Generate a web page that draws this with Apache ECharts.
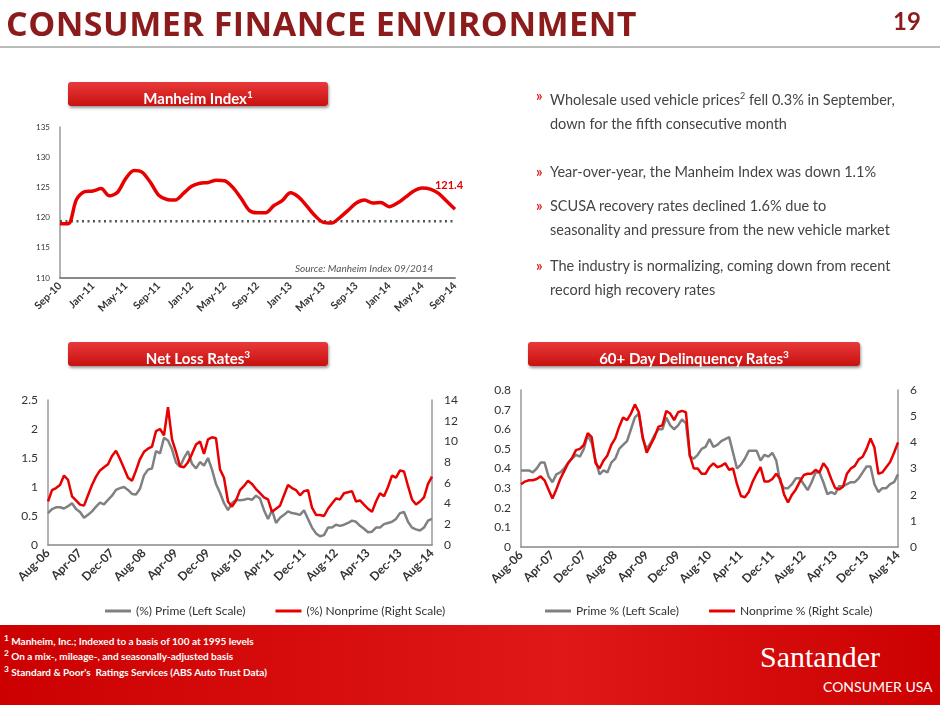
<!DOCTYPE html>
<html><head><meta charset="utf-8">
<script src="https://cdn.jsdelivr.net/npm/echarts@6/dist/echarts.min.js"></script>
<style>
body{margin:0;width:940px;height:705px;position:relative;overflow:hidden;background:#fff;font-family:Lato,"Open Sans",sans-serif}
#c{position:absolute;left:0;top:0;width:940px;height:705px}
.t{position:absolute;white-space:nowrap}
.pill{position:absolute;height:24px;line-height:24px;text-align:center;color:#fff;font-weight:bold;font-size:15px;background:linear-gradient(#e83a3a,#c81010);border-radius:3px;box-shadow:1px 2px 3px #999}
.b{position:absolute;left:550px;width:350px;font-size:14.5px;color:#444;line-height:24px}
.b:before{content:"»";position:absolute;left:-14px;color:#e02020;font-weight:bold}
</style></head><body>
<div id="c"></div>
<div class="t" style="left:6px;top:0px;font-size:34px;font-weight:bold;color:#8c1c1c;font-family:'Open Sans',sans-serif;letter-spacing:0.5px">CONSUMER FINANCE ENVIRONMENT</div>
<div class="t" style="left:893px;top:6px;font-size:24px;font-weight:bold;color:#8c1c1c">19</div>
<div style="position:absolute;left:0;top:46px;width:940px;height:2px;background:#bbb"></div>
<div class="pill" style="left:68px;top:82px;width:260px">Manheim Index<sup style="font-size:10px">1</sup></div>
<div class="pill" style="left:68px;top:342px;width:260px">Net Loss Rates<sup style="font-size:10px">3</sup></div>
<div class="pill" style="left:528px;top:342px;width:332px">60+ Day Delinquency Rates<sup style="font-size:10px">3</sup></div>
<div class="b" style="top:84px">Wholesale used vehicle prices<sup style="font-size:9px">2</sup> fell 0.3% in September, down for the fifth consecutive month</div>
<div class="b" style="top:160px">Year-over-year, the Manheim Index was down 1.1%</div>
<div class="b" style="top:194px">SCUSA recovery rates declined 1.6% due to seasonality and pressure from the new vehicle market</div>
<div class="b" style="top:254px">The industry is normalizing, coming down from recent record high recovery rates</div>
<div class="t" style="left:295px;top:262px;font-size:10px;font-style:italic;color:#555">Source: Manheim Index 09/2014</div>
<div style="position:absolute;left:0;top:625px;width:940px;height:80px;background:linear-gradient(90deg,#c00 0%,#e01818 60%,#c00 100%)"></div>
<div class="t" style="left:4px;top:632px;font-size:10px;color:#fff;line-height:12px;font-weight:bold"><sup>1</sup> Manheim, Inc.; Indexed to a basis of 100 at 1995 levels<br><sup>2</sup> On a mix-, mileage-, and seasonally-adjusted basis<br><sup>3</sup> Standard &amp; Poor's&nbsp; Ratings Services (ABS Auto Trust Data)</div>
<div class="t" style="left:760px;top:640px;font-size:30px;color:#fff;font-family:'Liberation Serif',serif">Santander</div>
<div class="t" style="left:823px;top:678px;font-size:14px;color:#fff">CONSUMER USA</div>
<script>
var MON=['Jan','Feb','Mar','Apr','May','Jun','Jul','Aug','Sep','Oct','Nov','Dec'];
function months(y,m,n){var a=[];for(var i=0;i<n;i++){var k=m+i;a.push(MON[k%12]+'-'+String(y+Math.floor(k/12)).slice(-2));}return a;}
var manCats=months(2010,8,49);
var manheim=[119,119,123,124.3,124.4,124.8,123.6,124.2,126.5,127.8,127.5,125.8,123.7,123,122.9,124,125.2,125.7,125.8,126.2,126.1,125,123.2,121.2,120.8,120.8,122,122.8,124.1,123.4,121.9,120.3,119.2,119.1,120,121.2,122.4,122.9,122.4,122.5,121.8,122.4,123.4,124.4,124.9,124.7,124,122.7,121.4];
var manBase=manCats.map(function(){return 119.4;});
var lossCats=months(2006,7,97);
var lossPrime=[.55,.62,.65,.65,.63,.67,.72,.62,.57,.47,.52,.58,.66,.73,.7,.78,.85,.95,.98,1.0,.95,.88,.87,.97,1.2,1.3,1.32,1.62,1.58,1.85,1.8,1.65,1.42,1.35,1.5,1.62,1.4,1.32,1.43,1.37,1.5,1.3,1.05,.9,.72,.6,.72,.78,.77,.78,.8,.78,.85,.8,.6,.45,.6,.38,.47,.52,.58,.55,.54,.52,.6,.45,.3,.2,.15,.17,.3,.3,.35,.33,.35,.38,.42,.4,.33,.28,.22,.23,.3,.3,.36,.38,.4,.45,.55,.57,.4,.3,.27,.25,.3,.42,.45];
var lossNon=[4.2,5.3,5.5,5.8,6.7,6.3,4.7,4.3,3.9,3.8,4.8,5.8,6.6,7.2,7.5,7.8,8.6,9.1,8.3,7.4,6.5,6.2,7.2,8.3,9.0,9.3,9.5,11.0,11.2,10.6,13.3,10.2,9.0,7.6,7.5,8.0,8.8,9.7,10.0,8.8,10.2,10.4,10.3,7.3,6.5,4.2,3.7,4.3,5.3,5.7,6.2,5.9,5.4,5.0,4.6,4.4,3.2,3.5,3.8,4.8,5.8,5.5,5.3,4.8,5.2,5.3,3.6,2.9,2.9,2.8,3.5,4.0,4.5,4.4,5.0,5.1,5.2,4.2,4.3,3.9,3.5,3.2,4.2,5.0,4.7,5.6,6.7,6.5,7.2,7.1,5.7,4.4,3.9,4.2,4.6,5.9,6.6];
var delPrime=[.39,.39,.39,.38,.4,.43,.43,.36,.33,.37,.38,.4,.43,.45,.47,.46,.5,.57,.53,.44,.37,.39,.38,.43,.45,.5,.52,.54,.6,.66,.68,.55,.5,.53,.57,.6,.6,.66,.62,.6,.62,.65,.63,.46,.45,.47,.5,.51,.55,.51,.52,.54,.55,.56,.48,.4,.42,.45,.49,.49,.49,.44,.47,.46,.48,.44,.33,.3,.3,.32,.35,.35,.32,.29,.33,.38,.38,.33,.27,.28,.27,.31,.31,.32,.33,.33,.35,.38,.41,.41,.32,.28,.3,.3,.32,.33,.37];
var delNon=[2.4,2.5,2.55,2.55,2.6,2.7,2.55,2.2,1.85,2.2,2.6,2.9,3.2,3.4,3.7,3.75,3.9,4.35,4.2,3.2,3.0,3.3,3.5,3.9,4.15,4.6,4.95,4.85,5.1,5.45,5.15,4.2,3.6,3.9,4.2,4.6,4.65,5.2,5.1,4.85,5.15,5.2,5.15,3.5,3.0,3.0,2.8,2.8,3.05,3.2,3.05,3.1,3.2,2.95,3.0,2.4,1.95,1.9,2.1,2.5,2.8,3.05,2.5,2.5,2.6,2.8,2.6,2.0,1.7,2.0,2.2,2.5,2.75,2.8,2.8,2.95,2.85,3.2,3.0,2.6,2.25,2.2,2.3,2.8,3.0,3.1,3.35,3.45,3.75,4.15,3.8,2.8,2.85,3.05,3.25,3.6,4.0];

var F='Lato,"Open Sans",sans-serif';
var lbl={color:'#333',fontFamily:F};
function xax(idx,cats,iv,fs){return {type:'category',gridIndex:idx,data:cats,boundaryGap:false,
 axisLine:{lineStyle:{color:'#888',width:idx==0?2:1.5}},axisTick:{show:false},
 axisLabel:Object.assign({rotate:45,interval:iv,fontSize:fs,fontWeight:'bold',margin:6},lbl)};}
function yax(idx,min,max,iv,pos,fs,line){return {type:'value',gridIndex:idx,min:min,max:max,interval:iv,position:pos,
 splitLine:{show:false},axisTick:{show:false},axisLine:{show:line,lineStyle:{color:'#999',width:1.5}},
 axisLabel:Object.assign({fontSize:fs,margin:pos=='right'?12:10},lbl)};}
var ch=echarts.init(document.getElementById('c'));
ch.setOption({animation:false,
 grid:[{left:60,right:485,top:127,bottom:427},{left:48,right:508,top:400,bottom:160},{left:521,right:42,top:390,bottom:158}],
 xAxis:[xax(0,manCats,3,10.5),xax(1,lossCats,7,12),xax(2,lossCats,7,12)],
 yAxis:[yax(0,110,135,5,'left',8,true),yax(1,0,2.5,0.5,'left',12,true),yax(1,0,14,2,'right',12,true),
        yax(2,0,0.8,0.1,'left',12,true),yax(2,0,6,1,'right',12,true)],
 legend:[{left:100,top:600,itemWidth:26,itemHeight:3,itemGap:30,icon:'rect',textStyle:{fontSize:12,color:'#333',fontFamily:F},data:['(%) Prime (Left Scale)','(%) Nonprime (Right Scale)']},
         {left:540,top:600,itemWidth:26,itemHeight:3,itemGap:30,icon:'rect',textStyle:{fontSize:12,color:'#333',fontFamily:F},data:['Prime % (Left Scale)','Nonprime % (Right Scale)']}],
 series:[
  {type:'line',xAxisIndex:0,yAxisIndex:0,data:manBase,showSymbol:false,silent:true,lineStyle:{color:'#555',width:2.5,type:[2,3.5]}},
  {type:'line',xAxisIndex:0,yAxisIndex:0,data:manheim,smooth:0.3,showSymbol:false,lineStyle:{color:'#e80000',width:3.5},
   markPoint:{symbol:'circle',symbolSize:1,data:[{coord:[48,121.4]}],label:{show:true,formatter:'121.4',color:'#e80000',fontWeight:'bold',fontSize:11,position:'top',distance:18,offset:[-6,0],fontFamily:F}}},
  {name:'(%) Prime (Left Scale)',type:'line',xAxisIndex:1,yAxisIndex:1,data:lossPrime,showSymbol:false,color:'#808080',lineStyle:{width:2.5}},
  {name:'(%) Nonprime (Right Scale)',type:'line',xAxisIndex:1,yAxisIndex:2,data:lossNon,showSymbol:false,color:'#e80000',lineStyle:{width:2.5}},
  {name:'Prime % (Left Scale)',type:'line',xAxisIndex:2,yAxisIndex:3,data:delPrime,showSymbol:false,color:'#808080',lineStyle:{width:2.5}},
  {name:'Nonprime % (Right Scale)',type:'line',xAxisIndex:2,yAxisIndex:4,data:delNon,showSymbol:false,color:'#e80000',lineStyle:{width:2.5}}
 ]});
</script>
</body></html>
